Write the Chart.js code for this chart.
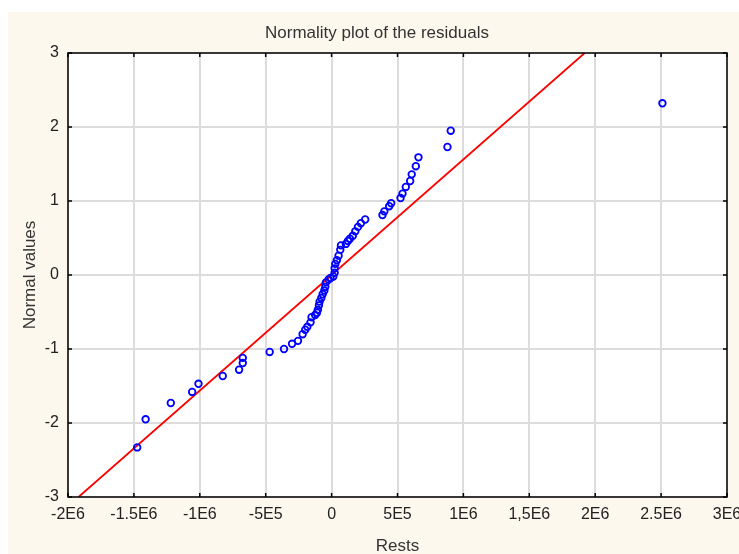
<!DOCTYPE html>
<html>
<head>
<meta charset="utf-8">
<script src="https://cdn.jsdelivr.net/npm/chart.js@4"></script>
<style>
    html, body {
        margin: 0;
        padding: 0;
        background: #ffffff;
        overflow: hidden;
    }
    #wrap {
        position: absolute;
        left: 8px;
        top: 12px;
        width: 738px;
        height: 542px;
        background: #fcf8ee;
    }
</style>
</head>
<body>
<div id="wrap"><canvas id="normalPlot"></canvas></div>
<script>
// residuals (x) and their normal quantiles (y)
const residuals = [
    -1.475e6, -1.411e6, -1.22e6, -1.058e6, -1.01e6, -0.826e6, -0.702e6, -0.674e6, -0.674e6, -0.47e6,
    -0.361e6, -0.30e6, -0.255e6, -0.22e6, -0.20e6, -0.184e6, -0.16e6, -0.152e6, -0.125e6, -0.111e6,
    -0.104e6, -0.096e6, -0.091e6, -0.078e6, -0.068e6, -0.055e6, -0.048e6, -0.043e6, -0.023e6, -0.008e6,
    0.013e6, 0.023e6, 0.023e6, 0.028e6, 0.040e6, 0.053e6, 0.066e6, 0.071e6, 0.108e6, 0.124e6,
    0.139e6, 0.161e6, 0.18e6, 0.20e6, 0.222e6, 0.255e6, 0.386e6, 0.40e6, 0.437e6, 0.452e6,
    0.523e6, 0.538e6, 0.563e6, 0.596e6, 0.608e6, 0.639e6, 0.659e6, 0.879e6, 0.904e6, 2.51e6,
];
const normalValues = [
    -2.33, -1.95, -1.73, -1.58, -1.47, -1.365, -1.28, -1.19, -1.12, -1.04,
    -1.00, -0.93, -0.89, -0.80, -0.74, -0.70, -0.64, -0.57, -0.54, -0.51,
    -0.47, -0.41, -0.36, -0.31, -0.26, -0.21, -0.16, -0.10, -0.06, -0.04,
    -0.02, 0.03, 0.09, 0.15, 0.20, 0.26, 0.34, 0.40, 0.42, 0.46,
    0.49, 0.53, 0.59, 0.65, 0.70, 0.75, 0.81, 0.86, 0.93, 0.97,
    1.04, 1.10, 1.19, 1.27, 1.36, 1.47, 1.59, 1.73, 1.95, 2.32,
];

// reference line ends
const fitLineX = [-1.92e6, 1.92e6];
const fitLineY = [-3, 3];

const xTickValues = [-2e6, -1.5e6, -1e6, -5e5, 0, 5e5, 1e6, 1.5e6, 2e6, 2.5e6, 3e6];
const xTickLabels = ['-2E6', '-1.5E6', '-1E6', '-5E5', '0', '5E5', '1E6', '1,5E6', '2E6', '2.5E6', '3E6'];
const yTickValues = [-3, -2, -1, 0, 1, 2, 3];

const fontFamily = 'Arial, "Liberation Sans", sans-serif';

const plotFrame = {
    id: 'plotFrame',
    beforeDraw(chart) {
        const { ctx, chartArea: a } = chart;
        ctx.save();
        ctx.fillStyle = '#ffffff';
        ctx.fillRect(a.left, a.top, a.width, a.height);
        ctx.restore();
    },
    afterDraw(chart) {
        const { ctx, chartArea: a, scales } = chart;
        const tick = 4;
        ctx.save();
        ctx.strokeStyle = '#000000';
        ctx.lineWidth = 1.5;
        ctx.strokeRect(a.left, a.top, a.width, a.height);
        ctx.beginPath();
        xTickValues.forEach((v) => {
            const px = scales.x.getPixelForValue(v);
            ctx.moveTo(px, a.bottom);
            ctx.lineTo(px, a.bottom - tick);
            ctx.moveTo(px, a.top);
            ctx.lineTo(px, a.top + tick);
        });
        yTickValues.forEach((v) => {
            const py = scales.y.getPixelForValue(v);
            ctx.moveTo(a.left, py);
            ctx.lineTo(a.left + tick, py);
            ctx.moveTo(a.right, py);
            ctx.lineTo(a.right - tick, py);
        });
        ctx.stroke();
        ctx.restore();
    },
};

const ctx = document.getElementById('normalPlot');

new Chart(ctx, {
    type: 'scatter',
    data: {
        datasets: [
            {
                label: 'Residuals',
                data: residuals.map((x, i) => ({ x, y: normalValues[i] })),
                borderColor: '#0000ff',
                backgroundColor: 'rgba(0,0,0,0)',
                pointRadius: 3.3,
                pointBorderWidth: 1.8,
                order: 1,
            },
            {
                label: 'Normal line',
                data: fitLineX.map((x, i) => ({ x, y: fitLineY[i] })),
                showLine: true,
                borderColor: '#ff0000',
                borderWidth: 1.8,
                pointRadius: 0,
                order: 2,
            },
        ],
    },
    options: {
        responsive: true,
        maintainAspectRatio: false,
        animation: false,
        layout: { padding: 0 },
        plugins: {
            legend: { display: false },
            tooltip: { enabled: false },
            title: {
                display: true,
                text: 'Normality plot of the residuals',
                color: '#333333',
                font: { family: fontFamily, size: 17, weight: 'normal' },
                padding: { top: 11, bottom: 9.6 },
            },
        },
        scales: {
            x: {
                type: 'linear',
                min: -2e6,
                max: 3e6,
                afterBuildTicks: (scale) => {
                    scale.ticks = xTickValues.map((value) => ({ value }));
                },
                afterFit: (scale) => {
                    scale.height = 57;
                    scale.paddingLeft = 0;
                    scale.paddingRight = 19;
                },
                ticks: {
                    autoSkip: false,
                    maxRotation: 0,
                    padding: 8,
                    color: '#222222',
                    font: { family: fontFamily, size: 16 },
                    callback: (value) => {
                        const i = xTickValues.indexOf(value);
                        return i >= 0 ? xTickLabels[i] : '';
                    },
                },
                grid: {
                    color: '#dcdcdc',
                    lineWidth: 2,
                    drawTicks: false,
                },
                border: { display: false },
                title: {
                    display: true,
                    text: 'Rests',
                    color: '#333333',
                    font: { family: fontFamily, size: 17 },
                    padding: { top: 0, bottom: -3 },
                },
            },
            y: {
                type: 'linear',
                min: -3,
                max: 3,
                afterBuildTicks: (scale) => {
                    scale.ticks = yTickValues.map((value) => ({ value }));
                },
                afterFit: (scale) => {
                    scale.width = 60;
                    scale.paddingTop = 0;
                    scale.paddingBottom = 0;
                },
                ticks: {
                    padding: 9,
                    color: '#222222',
                    font: { family: fontFamily, size: 16 },
                },
                grid: {
                    color: '#dcdcdc',
                    lineWidth: 2,
                    drawTicks: false,
                },
                border: { display: false },
                title: {
                    display: true,
                    text: 'Normal values',
                    color: '#333333',
                    font: { family: fontFamily, size: 17 },
                    padding: { top: 12, bottom: 0 },
                },
            },
        },
    },
    plugins: [plotFrame],
});
</script>
</body>
</html>
